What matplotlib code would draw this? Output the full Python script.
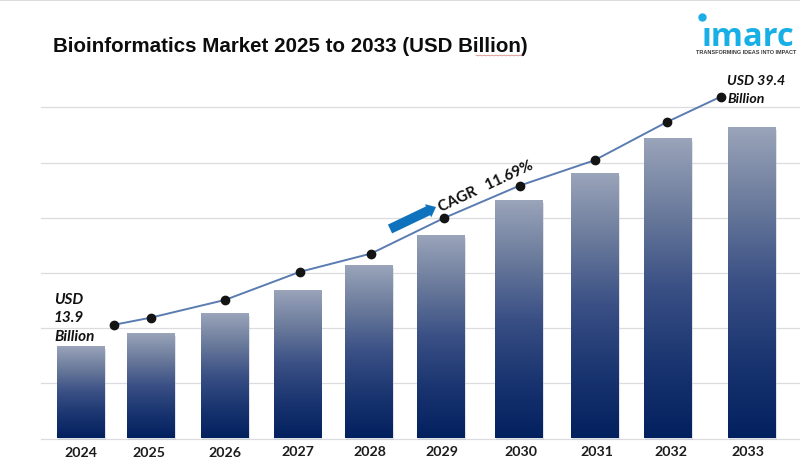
import numpy as np
import matplotlib
matplotlib.use("Agg")
import matplotlib.pyplot as plt
from matplotlib.colors import LinearSegmentedColormap
from matplotlib.patches import Rectangle

years = ["2024", "2025", "2026", "2027", "2028", "2029", "2030", "2031", "2032", "2033"]
# Drawn heights, in axis units (one gridline step = 10 units); the picture is not to scale with its labels
bar_values = [16.5, 18.9, 22.5, 26.8, 31.3, 36.7, 43.1, 47.9, 54.3, 56.3]
line_values = [20.6, 21.9, 25.1, 30.2, 33.5, 39.9, 45.8, 50.4, 57.3, 61.9]
bar_centres = [81, 151, 225, 297.5, 369, 441, 519, 595, 668, 752]
line_x = [114, 151, 225, 300, 371, 443.5, 519.5, 594.5, 666.5, 720.5]
tick_x = [81, 149, 224.5, 298, 370, 442, 520.5, 596.5, 671, 748]
tick_y_px = [453, 453, 453, 452, 452, 452, 452, 452, 452, 452]
grid_levels = [0, 10, 20, 30, 40, 50, 60]

W, H = 800, 466
BASE = 438.5
SCALE = 5.52


def py(px):
    return (BASE - px) / SCALE


fig = plt.figure(figsize=(8, 4.66), dpi=100)
ax = fig.add_axes([0, 0, 1, 1])
ax.set_xlim(0, W)
ax.set_ylim(py(H), py(0))
ax.axis("off")

ax.plot([0, W], [py(0.5)] * 2, color="#d4d4d4", lw=1.2, zorder=1)
for g in grid_levels:
    ax.plot([41, W], [g, g], color="#dcdce0", lw=0.9, zorder=1)

cmap = LinearSegmentedColormap.from_list(
    "bar", ["#9aa4ba", "#6a7a9b", "#3a5085", "#1a3570", "#03205f"])
grad = np.linspace(0, 1, 256).reshape(-1, 1)
BAR_W = 48
for x, v in zip(bar_centres, bar_values):
    ax.add_patch(Rectangle((x - BAR_W / 2 + 0.5, -0.35), BAR_W, v, color="#c4c8d4",
                           alpha=0.5, lw=0, zorder=2))
    ax.imshow(grad, cmap=cmap, aspect="auto", interpolation="bilinear",
              extent=(x - BAR_W / 2, x + BAR_W / 2, 0, v), zorder=3)
ax.set_xlim(0, W)
ax.set_ylim(py(H), py(0))

ax.plot(line_x, line_values, color="#5a7cb0", lw=1.4, zorder=4)
ax.plot(line_x, line_values, ls="none", marker="o", ms=6, color="#141414", zorder=5)

for x, yp, t in zip(tick_x, tick_y_px, years):
    ax.text(x, py(yp), t, ha="center", va="center", family="Lato", weight="bold",
            fontsize=10.2, color="#1c1c1c", zorder=6)

ax.text(53, py(47), "Bioinformatics Market 2025 to 2033 (USD Billion)", ha="left", va="center",
        family="Liberation Sans", weight="bold", fontsize=14.75, color="#0d0d0d", zorder=6)
sq_x = np.arange(476, 524, 2.0)
ax.plot(sq_x, py(55.5) + 0.07 * (-1.0) ** np.arange(len(sq_x)), color="#d98a8a", lw=0.6, zorder=6)

for yp, t in zip([299.5, 318.5, 337], ["USD", "13.9", "Billion"]):
    ax.text(54, py(yp), t, ha="left", va="center", family="Lato", style="italic",
            weight="bold", fontsize=11, color="#111111", zorder=6)
for yp, t in zip([81, 99.5], ["USD 39.4", "Billion"]):
    ax.text(727, py(yp), t, ha="left", va="center", family="Lato", style="italic",
            weight="bold", fontsize=10.2, color="#111111", zorder=6)

ax.text(439, py(208), "CAGR   11.69%", ha="left", va="center", rotation=25,
        rotation_mode="anchor", family="Lato", weight="bold", fontsize=10.8, color="#111111", zorder=6)
ax.annotate("", xy=(436, py(207)), xytext=(390, py(229)), zorder=6,
            arrowprops=dict(arrowstyle="simple,head_length=0.45,head_width=0.75,tail_width=0.5",
                            color="#0f72bd", lw=0, shrinkA=0, shrinkB=0, mutation_scale=14))

# Logo
logo = "#18aee6"
ax.text(748, py(38), "ımarc", ha="center", va="center", family="Open Sans", weight="bold",
        fontsize=23.5, color=logo, zorder=6)
ax.plot([701.5], [py(17.5)], marker="o", ms=5, color=logo, ls="none", zorder=6)
ax.text(746.5, py(53), "TRANSFORMING IDEAS INTO IMPACT", ha="center", va="center",
        family="Liberation Sans", weight="bold", fontsize=3.95, color="#3a3a3a", zorder=6)

fig.savefig("out.png", dpi=100)
